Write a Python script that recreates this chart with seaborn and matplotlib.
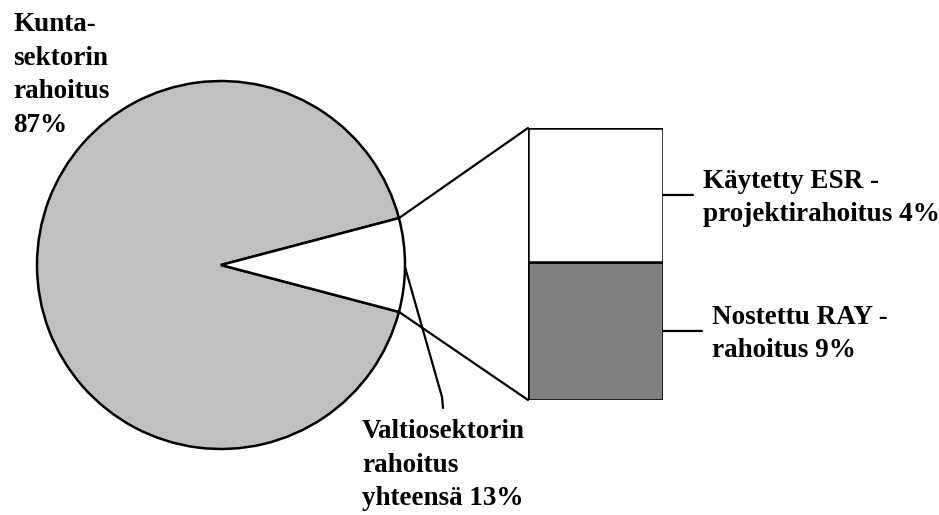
import seaborn as sns
import matplotlib.pyplot as plt
from matplotlib.patches import ConnectionPatch
import numpy as np

# pie: share of the two sectors as drawn in the picture
pie_labels = ["Kunta-\nsektorin\nrahoitus\n87%", "Valtiosektorin\nrahoitus\nyhteensä 13%"]
pie_values = [91.8, 8.2]
pie_colors = ["#C0C0C0", "#FFFFFF"]

# bar: breakdown of the state sector (bottom to top)
bar_labels = ["Nostettu RAY -\nrahoitus 9%", "Käytetty ESR -\nprojektirahoitus 4%"]
bar_values = [6.6, 6.4]
bar_colors = ["#808080", "#FFFFFF"]

sns.set_theme(style="white")
plt.rcParams["font.family"] = ["Liberation Serif", "DejaVu Serif"]

W, H = 939, 515
fig = plt.figure(figsize=(W / 100, H / 100), dpi=100)
ax = fig.add_axes([0, 0, 1, 1])

# pie, small slice centred on the right
cx, cy, r = 221, 250, 184
half = 360 * pie_values[1] / sum(pie_values) / 2
ax.pie(pie_values, colors=pie_colors, center=(cx, cy), radius=r,
       startangle=half, counterclock=True, frame=True,
       wedgeprops=dict(edgecolor="black", linewidth=1.8))
ax.set_xlim(0, W)
ax.set_ylim(0, H)
ax.axis("off")

# stacked bar in its own axes
bx = fig.add_axes([528 / W, (H - 400) / H, 135 / W, 272 / H])
bottom = 0
mids = []
for v, c in zip(bar_values, bar_colors):
    bx.bar(0, v, width=1, bottom=bottom, color=c, edgecolor="black", linewidth=1.8)
    mids.append(bottom + v / 2)
    bottom += v
bx.set_xlim(-0.5, 0.5)
bx.set_ylim(0, bottom)
bx.axis("off")

# connectors from slice edges to bar corners
a = np.deg2rad(half)
for sgn, corner in [(1, (0, 1)), (-1, (0, 0))]:
    p = (cx + r * np.cos(a), cy + sgn * r * np.sin(a))
    con = ConnectionPatch(xyA=p, coordsA="data", axesA=ax,
                          xyB=corner, coordsB="axes fraction", axesB=bx,
                          color="black", linewidth=1.6)
    fig.add_artist(con)

font = dict(fontsize=19.5, fontweight="bold", color="black", linespacing=1.45)

# bar labels with leader lines
lab_pos = [(712, 181), (703, 317)]
line_end = [702, 693]
for m, lab, (tx, ty), xe in zip(mids, bar_labels, lab_pos, line_end):
    con = ConnectionPatch(xyA=(0.5, m), coordsA="data", axesA=bx,
                          xyB=(xe, (H - (400 - 272 * m / bottom))), coordsB="data", axesB=ax,
                          color="black", linewidth=1.6)
    fig.add_artist(con)
    ax.text(tx, ty, lab, ha="left", va="center", **font)

# pie labels
ax.text(13, H - 12, pie_labels[0], ha="left", va="top", **font)
ax.plot([cx + r, 442, 443], [H - 267, H - 397, H - 408], color="black", linewidth=1.6)
ax.text(362, H - 419, pie_labels[1], ha="left", va="top", **font)

fig.savefig("out.png", dpi=100, facecolor="white")
